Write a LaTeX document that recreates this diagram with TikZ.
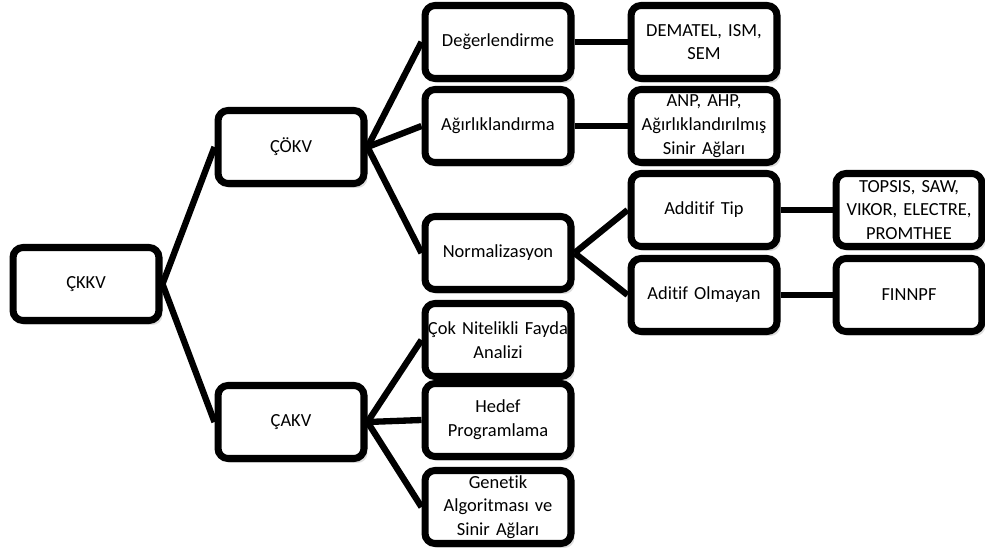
\documentclass[tikz,border=0pt]{standalone}
\usepackage{fontspec}
\setmainfont{Carlito}[RawFeature=-liga]
\usepackage{tikz}
\usetikzlibrary{positioning,shadows}

\begin{document}
\begin{tikzpicture}[
        x=0.02cm, y=-0.02cm,
        box/.style = {
                rectangle,
                draw=black,
                line width=4pt,
                rounded corners=2mm,
                fill=white,
                text width=29mm,
                align=center,
                inner xsep=0.1mm,
                inner ysep=0.5mm,
                minimum height=14.6mm,
                font=\fontsize{10.5}{13.5}\selectfont,
                drop shadow={shadow xshift=0.7mm, shadow yshift=-0.9mm, opacity=0.25},
            },
        link/.style = {
                line width=3.6pt,
            },
    ]
    \useasboundingbox (0,0) rectangle (985,554);
    % levels from left to right
    \node[box] (ckkv) at (86,284) {ÇKKV};
    \node[box] (cokv) at (291,147) {ÇÖKV};
    \node[box] (cakv) at (291,422) {ÇAKV};
    \node[box] (deger) at (498,42) {Değerlendirme};
    \node[box] (agir) at (498,126) {Ağırlıklandırma};
    \node[box] (norm) at (498,253) {Normalizasyon};
    \node[box] (cnfa) at (498,340) {Çok Nitelikli Fayda\\Analizi};
    \node[box] (hedef) at (498,420) {Hedef\\Programlama};
    \node[box] (genetik) at (498,507) {Genetik\\Algoritması ve\\Sinir Ağları};
    \node[box] (dematel) at (704,42) {DEMATEL, ISM,\\SEM};
    \node[box] (anp) at (704,126) {ANP, AHP,\\Ağırlıklandırılmış\\Sinir Ağları};
    \node[box] (additif) at (704,210) {Additif Tip};
    \node[box] (aditif) at (704,295) {Aditif Olmayan};
    \node[box] (topsis) at (909,210) {TOPSIS, SAW,\\VIKOR, ELECTRE,\\PROMTHEE};
    \node[box] (finnpf) at (909,295) {FINNPF};
    % connectors
    \foreach \a/\b in {
            ckkv/cokv,
            ckkv/cakv,
            cokv/deger,
            cokv/agir,
            cokv/norm,
            cakv/cnfa,
            cakv/hedef,
            cakv/genetik,
            norm/additif,
            norm/aditif,
            deger/dematel,
            agir/anp,
            additif/topsis,
            aditif/finnpf%
        }
    \draw[link] (\a.east) -- (\b.west);
\end{tikzpicture}
\end{document}
